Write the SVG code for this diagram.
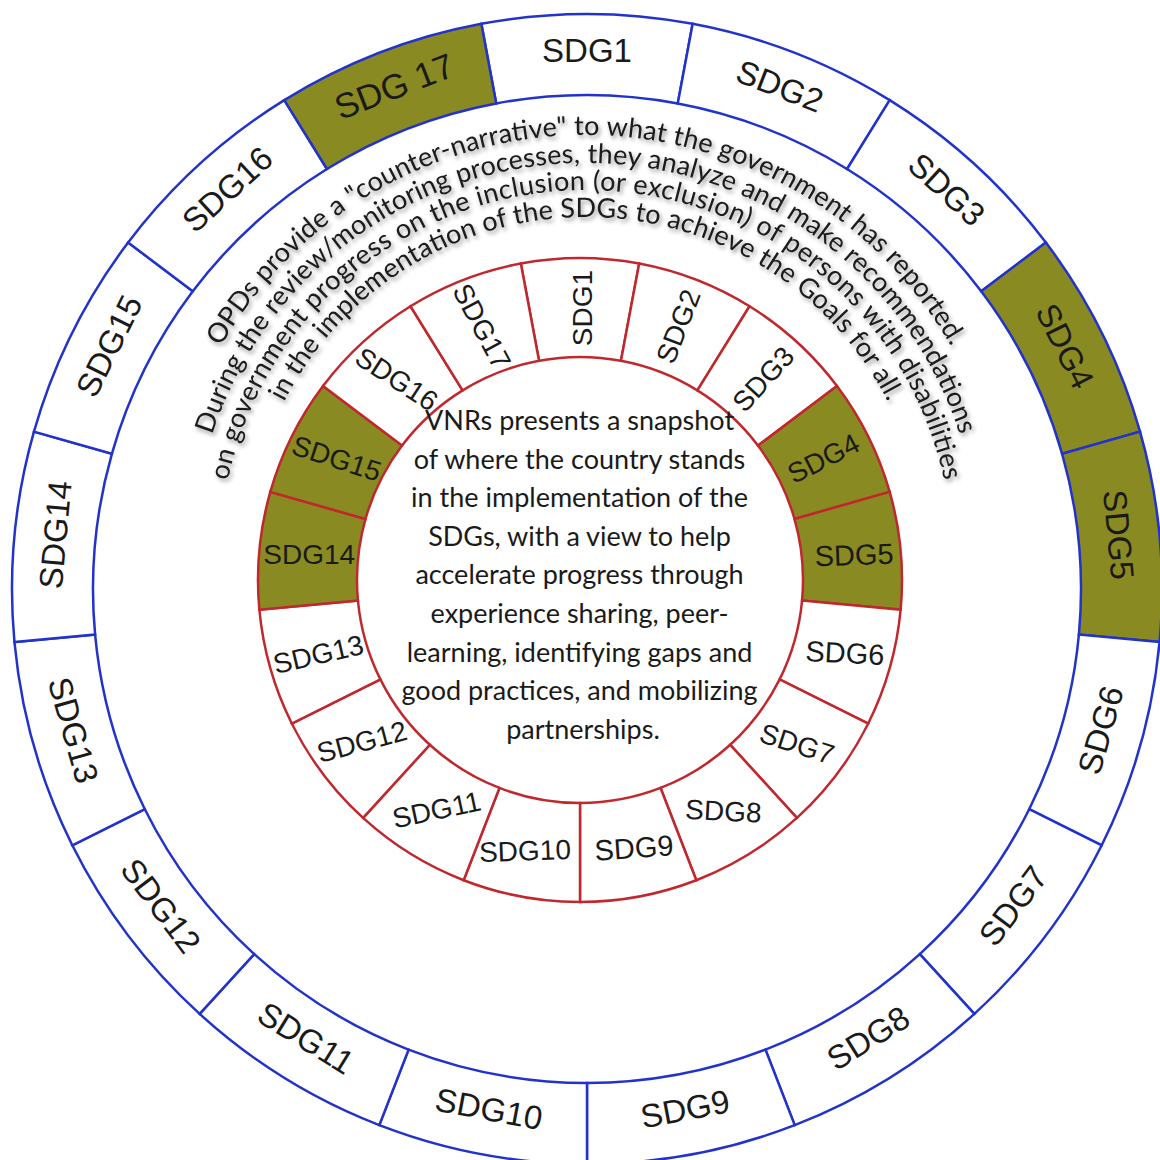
<svg xmlns="http://www.w3.org/2000/svg" width="1160" height="1160" viewBox="0 0 1160 1160">
<style>
.os{fill:#fff;stroke:#2233cc;stroke-width:2.5}
.is{fill:#fff;stroke:#c0282e;stroke-width:2.5}
.hl{fill:#8a8a22}
.ol{font-family:"Liberation Sans",Arial,sans-serif;font-size:33px;fill:#1a1a1a;text-anchor:middle;dominant-baseline:central}
.il{font-family:"Liberation Sans",Arial,sans-serif;font-size:28px;fill:#1a1a1a;text-anchor:middle;dominant-baseline:central}
.ct{font-family:Lato,"Open Sans",sans-serif;font-size:27px;fill:#1a1a1a;text-anchor:middle}
.cv{font-family:Lato,"Open Sans",sans-serif;font-size:27px;fill:#1a1a1a;text-anchor:middle}
</style>
<defs>
<filter id="sh" x="-10%" y="-10%" width="120%" height="130%"><feDropShadow dx="2" dy="3" stdDeviation="2" flood-color="#000" flood-opacity="0.4"/></filter>
<path id="a1" d="M221.4,766.5 A421,421 0 1 1 950.6,766.5"/>
<path id="a2" d="M245.7,752.5 A393,393 0 1 1 926.3,752.5"/>
<path id="a3" d="M269,739 A366,366 0 1 1 903,739"/>
<path id="a4" d="M292.4,725.5 A339,339 0 1 1 879.6,725.5"/>
</defs>
<rect width="1160" height="1160" fill="#fff"/>
<g id="outer-ring">
<g id="o1"><path class="os" d="M481.35,23.81 A575,575 0 0 1 692.65,23.81 L677.77,103.43 A494,494 0 0 0 496.23,103.43 Z"/><text class="ol" x="587" y="50">SDG1</text></g>
<g id="o2"><path class="os" d="M692.65,23.81 A575,575 0 0 1 889.69,100.13 L847.05,169 A494,494 0 0 0 677.77,103.43 Z"/><text class="ol" transform="translate(779.9,86.1) rotate(21.18)">SDG2</text></g>
<g id="o3"><path class="os" d="M889.69,100.13 A575,575 0 0 1 1045.86,242.49 L981.22,291.3 A494,494 0 0 0 847.05,169 Z"/><text class="ol" transform="translate(946.7,189.4) rotate(42.35)">SDG3</text></g>
<g id="o4"><path class="os hl" d="M1045.86,242.49 A575,575 0 0 1 1140.04,431.65 L1062.13,453.81 A494,494 0 0 0 981.22,291.3 Z"/><text class="ol" transform="translate(1065,346) rotate(63.53)">SDG4</text></g>
<g id="o5"><path class="os hl" d="M1140.04,431.65 A575,575 0 0 1 1159.54,642.05 L1078.89,634.58 A494,494 0 0 0 1062.13,453.81 Z"/><text class="ol" transform="translate(1118.7,534.7) rotate(84.71)">SDG5</text></g>
<g id="o6"><path class="os" d="M1159.54,642.05 A575,575 0 0 1 1101.7,845.29 L1029.19,809.19 A494,494 0 0 0 1078.89,634.58 Z"/><text class="ol" transform="translate(1100.6,730.1) rotate(-74.12)">SDG6</text></g>
<g id="o7"><path class="os" d="M1101.7,845.29 A575,575 0 0 1 974.36,1013.91 L919.79,954.06 A494,494 0 0 0 1029.19,809.19 Z"/><text class="ol" transform="translate(1013.1,905.8) rotate(-52.94)">SDG7</text></g>
<g id="o8"><path class="os" d="M974.36,1013.91 A575,575 0 0 1 794.71,1125.17 L765.45,1049.63 A494,494 0 0 0 919.79,954.06 Z"/><text class="ol" transform="translate(868.1,1038) rotate(-31.76)">SDG8</text></g>
<g id="o9"><path class="os" d="M794.71,1125.17 A575,575 0 0 1 587,1164 L587,1083 A494,494 0 0 0 765.45,1049.63 Z"/><text class="ol" transform="translate(685.1,1108.9) rotate(-10.59)">SDG9</text></g>
<g id="o10"><path class="os" d="M587,1164 A575,575 0 0 1 379.29,1125.17 L408.55,1049.63 A494,494 0 0 0 587,1083 Z"/><text class="ol" transform="translate(488.9,1108.9) rotate(10.59)">SDG10</text></g>
<g id="o11"><path class="os" d="M379.29,1125.17 A575,575 0 0 1 199.64,1013.91 L254.21,954.06 A494,494 0 0 0 408.55,1049.63 Z"/><text class="ol" transform="translate(305.9,1038) rotate(31.76)">SDG11</text></g>
<g id="o12"><path class="os" d="M199.64,1013.91 A575,575 0 0 1 72.3,845.29 L144.81,809.19 A494,494 0 0 0 254.21,954.06 Z"/><text class="ol" transform="translate(160.9,905.8) rotate(52.94)">SDG12</text></g>
<g id="o13"><path class="os" d="M72.3,845.29 A575,575 0 0 1 14.46,642.05 L95.11,634.58 A494,494 0 0 0 144.81,809.19 Z"/><text class="ol" transform="translate(73.4,730.1) rotate(74.12)">SDG13</text></g>
<g id="o14"><path class="os" d="M14.46,642.05 A575,575 0 0 1 33.96,431.65 L111.87,453.81 A494,494 0 0 0 95.11,634.58 Z"/><text class="ol" transform="translate(55.3,534.7) rotate(-84.71)">SDG14</text></g>
<g id="o15"><path class="os" d="M33.96,431.65 A575,575 0 0 1 128.14,242.49 L192.78,291.3 A494,494 0 0 0 111.87,453.81 Z"/><text class="ol" transform="translate(109,346) rotate(-63.53)">SDG15</text></g>
<g id="o16"><path class="os" d="M128.14,242.49 A575,575 0 0 1 284.31,100.13 L326.95,169 A494,494 0 0 0 192.78,291.3 Z"/><text class="ol" transform="translate(227.3,189.4) rotate(-42.35)">SDG16</text></g>
<g id="o17"><path class="os hl" d="M284.31,100.13 A575,575 0 0 1 481.35,23.81 L496.23,103.43 A494,494 0 0 0 326.95,169 Z"/><text class="ol" style="font-size:35px" transform="translate(394.1,86.1) rotate(-21.18)">SDG 17</text></g>
</g>
<g id="inner-ring">
<g id="i1"><path class="is" d="M520.84,263.49 A322,322 0 0 1 639.16,263.49 L620.97,360.8 A223,223 0 0 0 539.03,360.8 Z"/><text class="il" transform="translate(582,308) rotate(-90)">SDG1</text></g>
<g id="i2"><path class="is" d="M639.16,263.49 A322,322 0 0 1 749.51,306.24 L697.39,390.41 A223,223 0 0 0 620.97,360.8 Z"/><text class="il" transform="translate(678.4,326.4) rotate(-68.8)">SDG2</text></g>
<g id="i3"><path class="is" d="M749.51,306.24 A322,322 0 0 1 836.96,385.95 L757.96,445.61 A223,223 0 0 0 697.39,390.41 Z"/><text class="il" transform="translate(763.4,379.2) rotate(-47.6)">SDG3</text></g>
<g id="i4"><path class="is hl" d="M836.96,385.95 A322,322 0 0 1 889.7,491.88 L794.48,518.97 A223,223 0 0 0 757.96,445.61 Z"/><text class="il" transform="translate(823.5,458.6) rotate(-27)">SDG4</text></g>
<g id="i5"><path class="is hl" d="M889.7,491.88 A322,322 0 0 1 900.63,609.71 L802.05,600.58 A223,223 0 0 0 794.48,518.97 Z"/><text class="il" style="font-size:29px" transform="translate(854,555) rotate(-2)">SDG5</text></g>
<g id="i6"><path class="is" d="M900.63,609.71 A322,322 0 0 1 868.23,723.52 L779.61,679.4 A223,223 0 0 0 802.05,600.58 Z"/><text class="il" style="font-size:29px" transform="translate(845,653) rotate(3)">SDG6</text></g>
<g id="i7"><path class="is" d="M868.23,723.52 A322,322 0 0 1 796.92,817.95 L730.23,744.79 A223,223 0 0 0 779.61,679.4 Z"/><text class="il" transform="translate(797,744) rotate(18)">SDG7</text></g>
<g id="i8"><path class="is" d="M796.92,817.95 A322,322 0 0 1 696.32,880.25 L660.56,787.94 A223,223 0 0 0 730.23,744.79 Z"/><text class="il" transform="translate(723.4,811.2) rotate(3)">SDG8</text></g>
<g id="i9"><path class="is" d="M696.32,880.25 A322,322 0 0 1 580,902 L580,803 A223,223 0 0 0 660.56,787.94 Z"/><text class="il" style="font-size:29px" transform="translate(634,848) rotate(-4)">SDG9</text></g>
<g id="i10"><path class="is" d="M580,902 A322,322 0 0 1 463.68,880.25 L499.44,787.94 A223,223 0 0 0 580,803 Z"/><text class="il" transform="translate(525,851) rotate(-2)">SDG10</text></g>
<g id="i11"><path class="is" d="M463.68,880.25 A322,322 0 0 1 363.08,817.95 L429.77,744.79 A223,223 0 0 0 499.44,787.94 Z"/><text class="il" transform="translate(436.7,810) rotate(-12)">SDG11</text></g>
<g id="i12"><path class="is" d="M363.08,817.95 A322,322 0 0 1 291.77,723.52 L380.39,679.4 A223,223 0 0 0 429.77,744.79 Z"/><text class="il" transform="translate(362,742) rotate(-15)">SDG12</text></g>
<g id="i13"><path class="is" d="M291.77,723.52 A322,322 0 0 1 259.37,609.71 L357.95,600.58 A223,223 0 0 0 380.39,679.4 Z"/><text class="il" transform="translate(318.4,654.5) rotate(-13)">SDG13</text></g>
<g id="i14"><path class="is hl" d="M259.37,609.71 A322,322 0 0 1 270.3,491.88 L365.52,518.97 A223,223 0 0 0 357.95,600.58 Z"/><text class="il" transform="translate(309.2,554.9)">SDG14</text></g>
<g id="i15"><path class="is hl" d="M270.3,491.88 A322,322 0 0 1 323.04,385.95 L402.04,445.61 A223,223 0 0 0 365.52,518.97 Z"/><text class="il" transform="translate(336.6,458.6) rotate(18)">SDG15</text></g>
<g id="i16"><path class="is" d="M323.04,385.95 A322,322 0 0 1 410.49,306.24 L462.61,390.41 A223,223 0 0 0 402.04,445.61 Z"/><text class="il" transform="translate(396.6,379.2) rotate(33)">SDG16</text></g>
<g id="i17"><path class="is" d="M410.49,306.24 A322,322 0 0 1 520.84,263.49 L539.03,360.8 A223,223 0 0 0 462.61,390.41 Z"/><text class="il" transform="translate(481.6,326.4) rotate(62)">SDG17</text></g>
</g>
<g id="center-text">
<text class="ct" x="583">
<tspan x="583" y="430">VNRs presents a snapshot</tspan>
<tspan x="583" y="468.6">of where the country stands</tspan>
<tspan x="583" y="507.2">in the implementation of the</tspan>
<tspan x="583" y="545.8">SDGs, with a view to help</tspan>
<tspan x="583" y="584.4">accelerate progress through</tspan>
<tspan x="583" y="623">experience sharing, peer-</tspan>
<tspan x="583" y="661.6">learning, identifying gaps and</tspan>
<tspan x="583" y="700.2">good practices, and mobilizing</tspan>
<tspan x="583" y="738.8">partnerships.</tspan>
</text>
</g>
<g id="opd-text" filter="url(#sh)">
<text class="cv"><textPath href="#a1" startOffset="50%" textLength="884">OPDs provide a "counter-narrative" to what the government has reported.</textPath></text>
<text class="cv"><textPath href="#a2" startOffset="50%" textLength="988">During the review/monitoring processes, they analyze and make recommendations</textPath></text>
<text class="cv"><textPath href="#a3" startOffset="50%" textLength="998">on government progress on the inclusion (or exclusion) of persons with disabilities</textPath></text>
<text class="cv"><textPath href="#a4" startOffset="50%" textLength="745">in the implementation of the SDGs to achieve the Goals for all.</textPath></text>
</g>
<g id="connectors"/>
</svg>
